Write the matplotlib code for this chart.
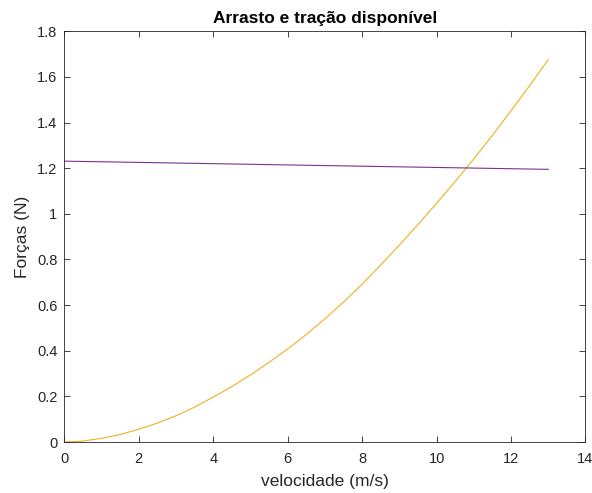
import matplotlib
matplotlib.use("Agg")
import matplotlib.pyplot as plt

# valores
velocidade = [0, 0.5, 1, 1.5, 2, 2.5, 3, 3.5, 4, 4.5, 5, 5.5, 6, 6.5,
              7, 7.5, 8, 8.5, 9, 9.5, 10, 10.5, 11, 11.5, 12, 12.5, 13]
arrasto = [0.0, 0.004, 0.016, 0.033, 0.056, 0.083, 0.115, 0.153, 0.197, 0.243,
           0.294, 0.349, 0.408, 0.471, 0.54, 0.613, 0.692, 0.776, 0.863, 0.953,
           1.046, 1.142, 1.241, 1.344, 1.452, 1.562, 1.676]

vel_tracao = [0, 6.5, 13]
tracao = [1.231, 1.213, 1.195]

title = "Arrasto e tração disponível"
xlabel = "velocidade (m/s)"
ylabel = "Forças (N)"

plt.rcParams["font.family"] = ["Liberation Sans", "DejaVu Sans"]
axis_color = "#262626"

fig = plt.figure(figsize=(5.92, 4.93), dpi=100)
ax = fig.add_axes([0.1086, 0.1034, 0.989 - 0.1086, 0.9365 - 0.1034])

ax.plot(velocidade, arrasto, color="#EDB120", lw=0.8)
ax.plot(vel_tracao, tracao, color="#7E2F8E", lw=0.8)

ax.set_xlim(0, 14)
ax.set_ylim(0, 1.8)
ax.set_xticks(range(0, 15, 2))
ax.set_yticks([0, 0.2, 0.4, 0.6, 0.8, 1.0, 1.2, 1.4, 1.6, 1.8])
ax.set_yticklabels(["0", "0.2", "0.4", "0.6", "0.8", "1", "1.2", "1.4", "1.6", "1.8"])

ax.tick_params(direction="in", top=True, right=True, length=4.5, width=0.6,
               colors=axis_color, labelsize=10.5)
ax.tick_params(axis="x", pad=7)
ax.tick_params(axis="y", pad=5)
for side in ax.spines.values():
    side.set_color(axis_color)
    side.set_linewidth(0.6)

ax.set_title(title, fontsize=12.5, fontweight="bold", color="black", pad=6)
ax.set_xlabel(xlabel, fontsize=12.5, color=axis_color, labelpad=6)
ax.set_ylabel(ylabel, fontsize=12.5, color=axis_color, labelpad=5)

fig.savefig("out.png", dpi=100)
